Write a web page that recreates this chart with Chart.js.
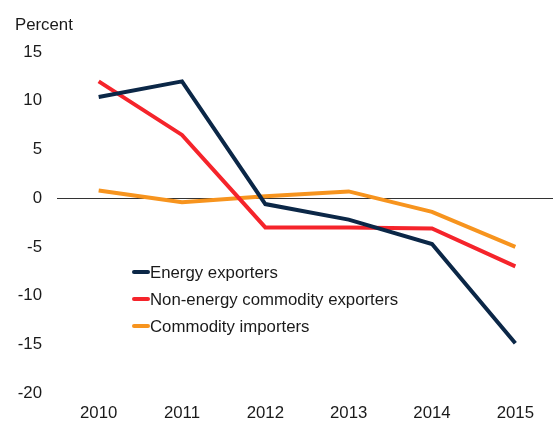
<!DOCTYPE html>
<html>
<head>
<meta charset="utf-8">
<script src="https://cdn.jsdelivr.net/npm/chart.js@4/dist/chart.umd.min.js"></script>
<style>
  html, body { margin: 0; padding: 0; background: #fff; overflow: hidden; }
  #wrap { position: relative; width: 557px; height: 422px; }
</style>
</head>
<body>
<div id="wrap"><canvas id="canvas" width="557" height="422"></canvas></div>
<script>
var years = ['2010', '2011', '2012', '2013', '2014', '2015'];
var energyExporters = [10.4, 12.0, -0.6, -2.2, -4.7, -14.9];
var nonEnergyExporters = [12.0, 6.5, -3.0, -3.0, -3.1, -7.0];
var commodityImporters = [0.8, -0.4, 0.2, 0.7, -1.4, -5.0];
var yTicks = [15, 10, 5, 0, -5, -10, -15, -20];

var FONT = '"Liberation Sans", Arial, Helvetica, sans-serif';
var FSIZE = 16.8;

// legend drawn inside the plot, below the lines
var insideLegend = {
    id: 'insideLegend',
    afterDraw: function (chart) {
        var ctx = chart.ctx;
        var x = 132, y = 272, step = 27;
        ctx.save();
        ctx.font = FSIZE + 'px ' + FONT;
        ctx.textBaseline = 'middle';
        chart.data.datasets.forEach(function (ds, i) {
            var yy = y + i * step;
            ctx.strokeStyle = ds.borderColor;
            ctx.lineWidth = 4;
            ctx.lineCap = 'round';
            ctx.beginPath();
            ctx.moveTo(x + 2, yy);
            ctx.lineTo(x + 16, yy);
            ctx.stroke();
            ctx.fillStyle = '#1a1a1a';
            ctx.fillText(ds.label, x + 18, yy + 1);
        });
        ctx.restore();
    }
};

var ctx = document.getElementById('canvas').getContext('2d');
var chart = new Chart(ctx, {
    type: 'line',
    data: {
        labels: years,
        datasets: [{
            label: 'Energy exporters',
            data: energyExporters,
            borderColor: '#0b2747',
            borderWidth: 4
        }, {
            label: 'Non-energy commodity exporters',
            data: nonEnergyExporters,
            borderColor: '#f5242b',
            borderWidth: 4
        }, {
            label: 'Commodity importers',
            data: commodityImporters,
            borderColor: '#f7941e',
            borderWidth: 4
        }]
    },
    options: {
        responsive: false,
        animation: false,
        devicePixelRatio: 1,
        elements: {
            point: { radius: 0 },
            line: { tension: 0, borderCapStyle: 'butt', borderJoinStyle: 'miter' }
        },
        layout: { padding: { top: 0, left: 15, right: 0, bottom: 0 } },
        plugins: {
            legend: { display: false },
            tooltip: { enabled: false },
            title: {
                display: true,
                text: 'Percent',
                align: 'start',
                color: '#1a1a1a',
                font: { family: FONT, size: FSIZE, weight: 'normal' },
                padding: { top: 15.5, bottom: 16.5 }
            }
        },
        scales: {
            x: {
                offset: true,
                border: { display: false },
                grid: { display: false, drawTicks: false },
                ticks: {
                    color: '#1a1a1a',
                    padding: 10,
                    maxRotation: 0,
                    font: { family: FONT, size: FSIZE }
                },
                afterFit: function (scale) { scale.height = 29; }
            },
            y: {
                min: -20,
                max: 15,
                border: { display: false },
                grid: {
                    drawTicks: false,
                    lineWidth: 1,
                    color: function (c) { return c.tick && c.tick.value === 0 ? '#333333' : 'rgba(0,0,0,0)'; }
                },
                afterBuildTicks: function (scale) {
                    scale.ticks = yTicks.map(function (v) { return { value: v }; });
                },
                ticks: {
                    color: '#1a1a1a',
                    padding: 15,
                    font: { family: FONT, size: FSIZE }
                },
                afterFit: function (scale) { scale.width = 42; }
            }
        }
    },
    plugins: [insideLegend]
});
</script>
</body>
</html>
